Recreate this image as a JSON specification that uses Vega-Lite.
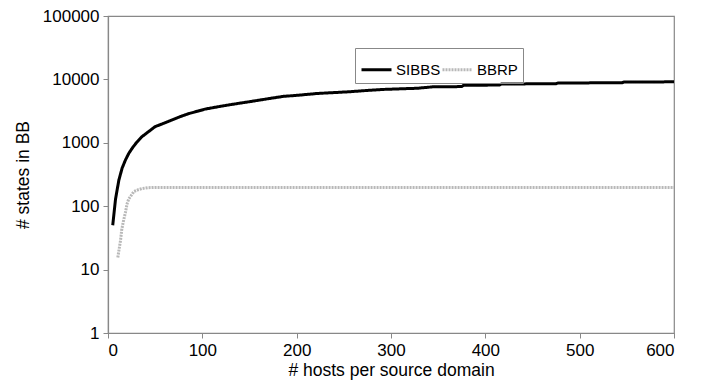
{
  "$schema": "https://vega.github.io/schema/vega-lite/v6.json",
  "autosize": {"type": "none"},
  "width": 566,
  "height": 317,
  "padding": {"left": 108, "top": 16, "right": 31, "bottom": 52},
  "background": "white",
  "config": {
    "font": "Liberation Sans",
    "view": {"stroke": "#888888", "strokeWidth": 1.2},
    "axis": {
      "labelFont": "Liberation Sans",
      "titleFont": "Liberation Sans",
      "labelFontSize": 17,
      "titleFontSize": 17.5,
      "titleFontWeight": "normal",
      "labelColor": "black",
      "titleColor": "black",
      "domainColor": "#888888",
      "domainWidth": 1.2,
      "tickColor": "#888888",
      "tickSize": 5,
      "grid": false
    },
    "legend": {"labelFont": "Liberation Sans", "labelFontSize": 15, "labelColor": "black"}
  },
  "data": {
    "values": [
      {"series": "SIBBS", "hosts": 5, "states": 50},
      {"series": "SIBBS", "hosts": 8, "states": 130},
      {"series": "SIBBS", "hosts": 11.5, "states": 258},
      {"series": "SIBBS", "hosts": 15, "states": 400},
      {"series": "SIBBS", "hosts": 18.5, "states": 535},
      {"series": "SIBBS", "hosts": 22, "states": 680},
      {"series": "SIBBS", "hosts": 25.6, "states": 820},
      {"series": "SIBBS", "hosts": 30, "states": 1000},
      {"series": "SIBBS", "hosts": 36, "states": 1250},
      {"series": "SIBBS", "hosts": 43, "states": 1500},
      {"series": "SIBBS", "hosts": 50, "states": 1800},
      {"series": "SIBBS", "hosts": 58, "states": 2000},
      {"series": "SIBBS", "hosts": 68, "states": 2300},
      {"series": "SIBBS", "hosts": 77, "states": 2600},
      {"series": "SIBBS", "hosts": 86, "states": 2900},
      {"series": "SIBBS", "hosts": 95, "states": 3150},
      {"series": "SIBBS", "hosts": 103, "states": 3400},
      {"series": "SIBBS", "hosts": 112, "states": 3600},
      {"series": "SIBBS", "hosts": 121, "states": 3800},
      {"series": "SIBBS", "hosts": 130, "states": 4000},
      {"series": "SIBBS", "hosts": 139, "states": 4200},
      {"series": "SIBBS", "hosts": 150, "states": 4450},
      {"series": "SIBBS", "hosts": 160, "states": 4700},
      {"series": "SIBBS", "hosts": 175, "states": 5100},
      {"series": "SIBBS", "hosts": 186, "states": 5400},
      {"series": "SIBBS", "hosts": 200, "states": 5600},
      {"series": "SIBBS", "hosts": 222, "states": 6000},
      {"series": "SIBBS", "hosts": 240, "states": 6200},
      {"series": "SIBBS", "hosts": 257, "states": 6400},
      {"series": "SIBBS", "hosts": 275, "states": 6700},
      {"series": "SIBBS", "hosts": 292, "states": 6950},
      {"series": "SIBBS", "hosts": 310, "states": 7100},
      {"series": "SIBBS", "hosts": 328, "states": 7250},
      {"series": "SIBBS", "hosts": 345, "states": 7650},
      {"series": "SIBBS", "hosts": 375, "states": 7700},
      {"series": "SIBBS", "hosts": 377, "states": 8070},
      {"series": "SIBBS", "hosts": 415, "states": 8150},
      {"series": "SIBBS", "hosts": 417, "states": 8460},
      {"series": "SIBBS", "hosts": 475, "states": 8550},
      {"series": "SIBBS", "hosts": 477, "states": 8780},
      {"series": "SIBBS", "hosts": 545, "states": 8850},
      {"series": "SIBBS", "hosts": 547, "states": 9100},
      {"series": "SIBBS", "hosts": 600, "states": 9150},
      {"series": "BBRP", "hosts": 10.4, "states": 15.5},
      {"series": "BBRP", "hosts": 12, "states": 22},
      {"series": "BBRP", "hosts": 13.3, "states": 29},
      {"series": "BBRP", "hosts": 14.5, "states": 42},
      {"series": "BBRP", "hosts": 16, "states": 55},
      {"series": "BBRP", "hosts": 18.5, "states": 80},
      {"series": "BBRP", "hosts": 20.3, "states": 110},
      {"series": "BBRP", "hosts": 22, "states": 130},
      {"series": "BBRP", "hosts": 25.6, "states": 155},
      {"series": "BBRP", "hosts": 27.4, "states": 170},
      {"series": "BBRP", "hosts": 32, "states": 182},
      {"series": "BBRP", "hosts": 36, "states": 190},
      {"series": "BBRP", "hosts": 42, "states": 196},
      {"series": "BBRP", "hosts": 50, "states": 198},
      {"series": "BBRP", "hosts": 100, "states": 198},
      {"series": "BBRP", "hosts": 200, "states": 198},
      {"series": "BBRP", "hosts": 300, "states": 198},
      {"series": "BBRP", "hosts": 400, "states": 198},
      {"series": "BBRP", "hosts": 500, "states": 198},
      {"series": "BBRP", "hosts": 600, "states": 198}
    ]
  },
  "mark": {"type": "line", "strokeWidth": 3},
  "encoding": {
    "x": {
      "field": "hosts",
      "type": "quantitative",
      "scale": {"domain": [0, 600], "nice": false},
      "axis": {"values": [0, 100, 200, 300, 400, 500, 600], "title": "# hosts per source domain", "labelPadding": 4, "titlePadding": 3}
    },
    "y": {
      "field": "states",
      "type": "quantitative",
      "scale": {"type": "log", "domain": [1, 100000], "nice": false},
      "axis": {"values": [1, 10, 100, 1000, 10000, 100000], "format": "d", "title": "# states in BB", "labelPadding": 4, "titlePadding": 10}
    },
    "color": {
      "field": "series",
      "type": "nominal",
      "scale": {"domain": ["SIBBS", "BBRP"], "range": ["#000000", "#b8b8b8"]},
      "legend": {
        "title": null,
        "orient": "none",
        "direction": "horizontal",
        "legendX": 247,
        "legendY": 32,
        "symbolType": "stroke",
        "symbolSize": 900,
        "symbolStrokeWidth": 3,
        "strokeColor": "#888888",
        "padding": 5,
        "labelOffset": 3,
        "columnPadding": -6
      }
    },
    "strokeDash": {
      "field": "series",
      "type": "nominal",
      "scale": {"domain": ["SIBBS", "BBRP"], "range": [[1, 0], [2, 1]]},
      "legend": null
    }
  }
}
